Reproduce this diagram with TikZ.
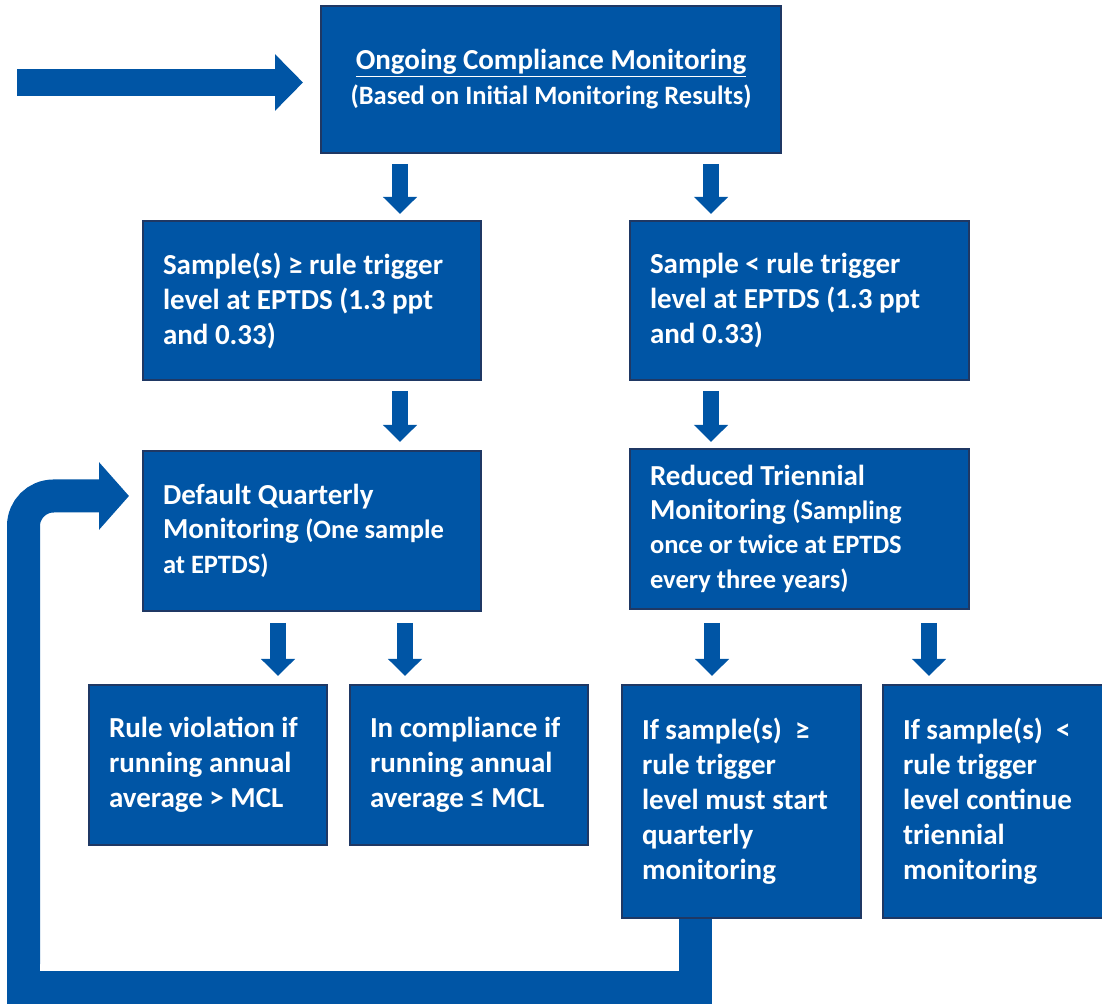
\documentclass[tikz,border=0pt]{standalone}
\usepackage{fontspec}
\setmainfont{Carlito}
\usetikzlibrary{arrows.meta,calc}

\definecolor{boxblue}{HTML}{0055A5}
\definecolor{boxline}{HTML}{1F3864}

\newcommand\bigtxt{\bfseries\fontsize{29}{35}\selectfont}
\newcommand\smalltxt{\fontsize{26.5}{34}\selectfont}

\tikzset{
  stepbox/.style={draw=boxline, line width=2pt, fill=boxblue, text=white,
    inner xsep=20pt, inner ysep=0pt, align=flush left, font=\bigtxt},
  blockarr/.style={draw=boxblue, line width=16pt, -{Triangle[width=33pt,length=17pt]}},
  looparr/.style={draw=boxblue, line width=33pt}
}

\begin{document}
\begin{tikzpicture}[x=1pt,y=1pt]
	\useasboundingbox (0,0) rectangle (1102,1004);

	% boxes
	\node[stepbox, align=flush center, text width=420pt, minimum height=147pt] (monitor) at (551,924.5)
		{\underline{Ongoing Compliance Monitoring}\\ {\smalltxt (Based on Initial Monitoring Results)}};
	\node[stepbox, text width=298pt, minimum height=159pt] (highsample) at (312,703.5)
		{Sample(s) ≥ rule trigger\\ level at EPTDS (1.3 ppt\\ and 0.33)};
	\node[stepbox, text width=299pt, minimum height=159pt] (lowsample) at (799.5,703.5)
		{Sample < rule trigger\\ level at EPTDS (1.3 ppt\\ and 0.33)};
	\node[stepbox, text width=298pt, minimum height=160pt] (quarterly) at (312,473)
		{Default Quarterly\\ Monitoring {\smalltxt (One sample\\ at EPTDS)}};
	\node[stepbox, text width=299pt, minimum height=160pt] (triennial) at (799.5,475)
		{Reduced Triennial\\ Monitoring {\smalltxt (Sampling\\ once or twice at EPTDS\\ every three years)}};
	\node[stepbox, text width=198pt, minimum height=160pt] (violation) at (208,239)
		{Rule violation if\\ running annual\\ average > MCL};
	\node[stepbox, text width=198pt, minimum height=160pt] (compliance) at (469,239)
		{In compliance if\\ running annual\\ average ≤ MCL};
	\node[stepbox, text width=199pt, minimum height=233pt] (startq) at (741.5,202.5)
		{If sample(s)~\ ≥\\ rule trigger\\ level must start\\ quarterly\\ monitoring};
	\node[stepbox, text width=199pt, minimum height=233pt] (continuet) at (1002.5,202.5)
		{If sample(s)~\ <\\ rule trigger\\ level continue\\ triennial\\ monitoring};

	% entry arrow
	\coordinate (entry) at (17,921.5);
	\draw[draw=boxblue, line width=27pt, -{Triangle[width=55pt,length=28pt]}]
		(entry) -- ($(monitor.west)+(-17,-3)$);

	% down arrows
	\draw[blockarr] ($(highsample.north |- monitor.south)+(88,-10)$) -- ($(highsample.north)+(88,6)$);
	\draw[blockarr] ($(lowsample.north |- monitor.south)+(-88.5,-10)$) -- ($(lowsample.north)+(-88.5,6)$);
	\draw[blockarr] ($(highsample.south)+(88,-10)$) -- ($(quarterly.north)+(88,8)$);
	\draw[blockarr] ($(lowsample.south)+(-88.5,-10)$) -- ($(triennial.north)+(-88.5,6)$);
	\draw[blockarr] ($(violation.north |- quarterly.south)+(70,-11)$) -- ($(violation.north)+(70,8)$);
	\draw[blockarr] ($(compliance.north |- quarterly.south)+(-64,-11)$) -- ($(compliance.north)+(-64,8)$);
	\draw[blockarr] ($(startq.north |- triennial.south)+(-29.5,-13)$) -- ($(startq.north)+(-29.5,8)$);
	\draw[blockarr] ($(continuet.north |- triennial.south)+(-73.5,-13)$) -- ($(continuet.north)+(-73.5,8)$);

	% loop back to quarterly monitoring
	\draw[looparr] ($(startq.south)+(-46.5,0)$) |- (23.5,17) -- (23.5,40);
	\draw[looparr, rounded corners=30pt, -{Triangle[width=66pt,length=30pt]}]
		(23.5,40) -- (23.5,508) -- ($(quarterly.west)+(-13,35)$);
\end{tikzpicture}
\end{document}
